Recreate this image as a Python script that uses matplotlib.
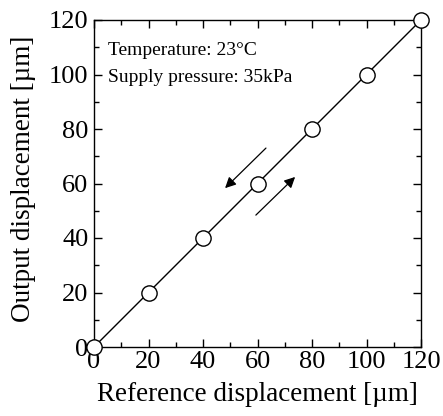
import numpy as np
import matplotlib.pyplot as plt
from matplotlib.ticker import MultipleLocator

# reference vs output displacement [um]
ref_disp = [0, 20, 40, 60, 80, 100, 120]
out_disp = [0, 20, 40, 60, 80, 100, 120]

# direction arrows (start, end) in data coords
arrow_down = ((63.1, 73.0), (48.1, 58.3))
arrow_up = ((59.4, 48.4), (73.8, 62.4))

plt.rcParams['font.family'] = ['Liberation Serif', 'DejaVu Serif']

fig = plt.figure(figsize=(4.43, 4.16), dpi=100)
ax = fig.add_axes([94/443, 1 - 347/416, 327/443, 327/416])

ax.plot(ref_disp, out_disp, color='black', lw=1.0, marker='o', ms=11,
        mfc='white', mec='black', mew=1.0, clip_on=False, zorder=3)

for (x0, y0), (x1, y1) in (arrow_down, arrow_up):
    ax.annotate('', xy=(x1, y1), xytext=(x0, y0),
                arrowprops=dict(arrowstyle='-|>', color='black', lw=0.9,
                                mutation_scale=16, shrinkA=0, shrinkB=0))

ax.text(0.043, 0.893, 'Temperature: 23\u00b0C', transform=ax.transAxes,
        fontsize=14, va='baseline')
ax.text(0.043, 0.81, 'Supply pressure: 35kPa', transform=ax.transAxes,
        fontsize=14, va='baseline')

ax.set_xlim(0, 120)
ax.set_ylim(0, 120)
ax.xaxis.set_major_locator(MultipleLocator(20))
ax.xaxis.set_minor_locator(MultipleLocator(10))
ax.yaxis.set_major_locator(MultipleLocator(20))
ax.yaxis.set_minor_locator(MultipleLocator(10))
ax.tick_params(which='both', direction='in', top=True, right=True, width=1.0)
ax.tick_params(which='major', length=6, labelsize=19)
ax.tick_params(axis='x', which='major', pad=3)
ax.tick_params(axis='y', which='major', pad=4)
ax.tick_params(which='minor', length=3.5)
for s in ax.spines.values():
    s.set_linewidth(1.0)

ax.set_xlabel('Reference displacement [\u00b5m]', fontsize=19.5)
ax.set_ylabel('Output displacement [\u00b5m]', fontsize=19.5)
ax.xaxis.set_label_coords(0.5, -0.107)
ax.yaxis.set_label_coords(-0.178, 0.515)

fig.savefig('out.png', dpi=100)
